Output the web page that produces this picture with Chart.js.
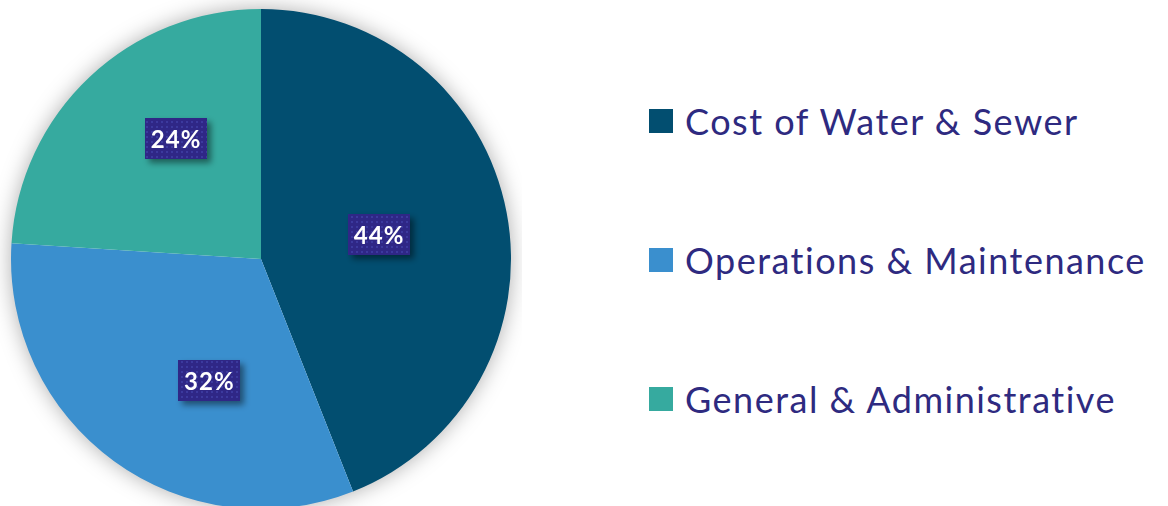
<!DOCTYPE html>
<html>
<head>
<meta charset="utf-8">
<script src="https://cdn.jsdelivr.net/npm/chart.js@4.4.9/dist/chart.umd.min.js"></script>
<style>
  html, body { margin: 0; padding: 0; background: #fff; overflow: hidden; }
  body { width: 1168px; height: 506px; position: relative; }
  #wrap { position: absolute; left: 0; top: 0; width: 522px; height: 518px; }
  #legend { position: absolute; left: 649px; top: 0; font-family: Lato, sans-serif; font-size: 36px; letter-spacing: 1.5px; color: #2e2a80; font-variant-ligatures: none; }
  .item { position: absolute; left: 0; display: flex; align-items: center; white-space: nowrap; transform: translateY(-50%); }
  .swatch { width: 24px; height: 24px; margin-right: 12px; flex: none; }
</style>
</head>
<body>
<div id="wrap"><canvas id="pieChart"></canvas></div>
<div id="legend"></div>
<script>
// chart data
const categories = ['Cost of Water & Sewer', 'Operations & Maintenance', 'General & Administrative'];
const shares = [44, 32, 24];
const sliceColors = ['#024e70', '#3a8fce', '#36aa9f'];

// where Excel put the labels (fraction of radius, angle nudge in degrees)
const labelFrac = [0.48, 0.53, 0.59];
const labelShift = [-0.8, -12.8, 7.8];

// legend rows, y centres
const legendRows = [121, 260, 399];

function buildLegend() {
    const legend = document.getElementById('legend');
    categories.forEach(function(name, i) {
        const row = document.createElement('div');
        row.className = 'item';
        row.style.top = legendRows[i] + 'px';
        const sw = document.createElement('span');
        sw.className = 'swatch';
        sw.style.background = sliceColors[i];
        const txt = document.createElement('span');
        txt.textContent = name;
        row.appendChild(sw);
        row.appendChild(txt);
        legend.appendChild(row);
    });
}

// dotted fill for the label boxes
function makePattern(ctx) {
    const p = document.createElement('canvas');
    p.width = 5; p.height = 5;
    const pc = p.getContext('2d');
    pc.fillStyle = '#2f2786';
    pc.fillRect(0, 0, 5, 5);
    pc.fillStyle = '#3c3a9e';
    pc.fillRect(1, 1, 2, 2);
    return ctx.createPattern(p, 'repeat');
}

// soft shadow under the whole pie
const pieShadow = {
    id: 'pieShadow',
    beforeDatasetsDraw(chart) {
        const arc = chart.getDatasetMeta(0).data[0];
        if (!arc) return;
        const ctx = chart.ctx;
        ctx.save();
        ctx.shadowColor = 'rgba(0,0,0,0.35)';
        ctx.shadowBlur = 22;
        ctx.fillStyle = '#ffffff';
        ctx.beginPath();
        ctx.arc(arc.x, arc.y, arc.outerRadius - 1, 0, Math.PI * 2);
        ctx.fill();
        ctx.restore();
    }
};

// boxed percentage labels
const boxLabels = {
    id: 'boxLabels',
    afterDatasetsDraw(chart) {
        const ctx = chart.ctx;
        const pattern = makePattern(ctx);
        ctx.save();
        ctx.font = 'bold 24px Lato, sans-serif';
        ctx.letterSpacing = '1px';
        ctx.textAlign = 'center';
        ctx.textBaseline = 'middle';
        chart.getDatasetMeta(0).data.forEach(function(arc, i) {
            const mid = (arc.startAngle + arc.endAngle) / 2 + labelShift[i] * Math.PI / 180;
            const r = arc.outerRadius * labelFrac[i];
            const x = arc.x + Math.cos(mid) * r;
            const y = arc.y + Math.sin(mid) * r;
            const w = 62, h = 41;
            ctx.save();
            ctx.shadowColor = 'rgba(0,0,0,0.45)';
            ctx.shadowBlur = 6;
            ctx.shadowOffsetX = 4;
            ctx.shadowOffsetY = 4;
            ctx.fillStyle = pattern;
            ctx.fillRect(Math.round(x - w / 2), Math.round(y - h / 2), w, h);
            ctx.restore();
            ctx.fillStyle = '#ffffff';
            ctx.fillText(shares[i] + '%', x + 0.5, y + 1);
        });
        ctx.restore();
    }
};

function initChart() {
    const ctx = document.getElementById('pieChart').getContext('2d');
    new Chart(ctx, {
        type: 'pie',
        data: {
            labels: categories,
            datasets: [{
                data: shares,
                backgroundColor: sliceColors,
                borderWidth: 0
            }]
        },
        options: {
            responsive: true,
            maintainAspectRatio: false,
            animation: false,
            layout: { padding: 9 },
            plugins: {
                legend: { display: false },
                tooltip: { enabled: false }
            }
        },
        plugins: [pieShadow, boxLabels]
    });
}

buildLegend();
initChart();
</script>
</body>
</html>
